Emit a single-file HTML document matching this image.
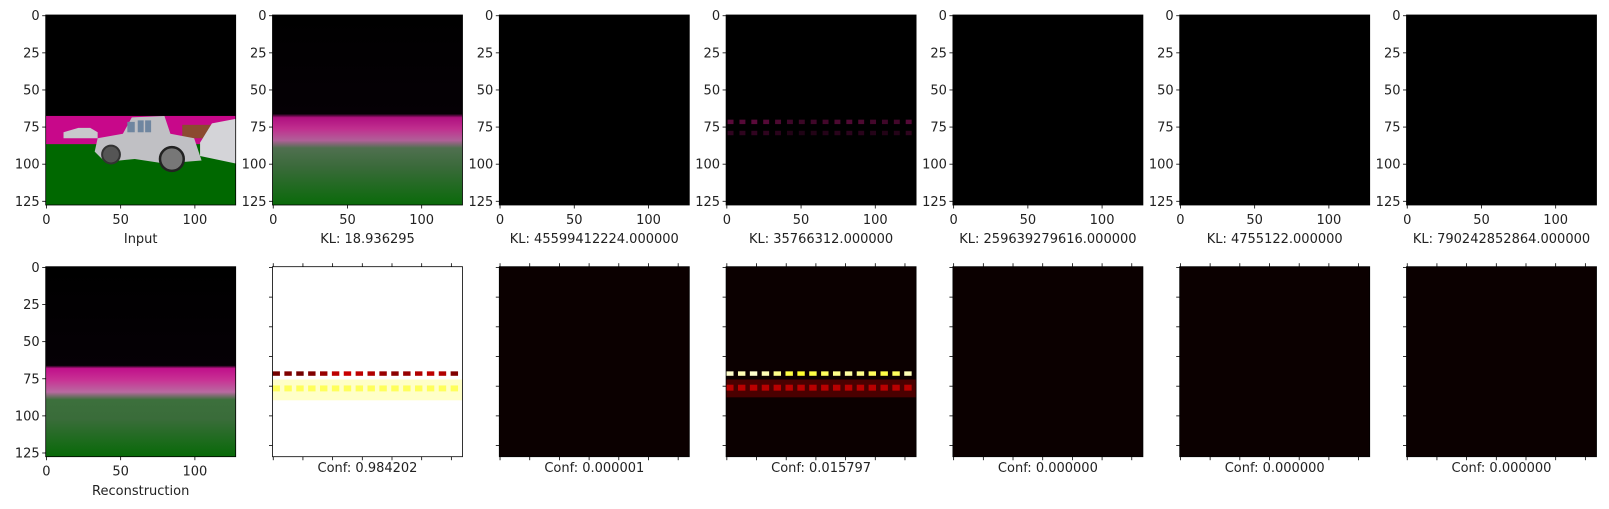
<!DOCTYPE html>
<html><head><meta charset="utf-8">
<style>
html,body{margin:0;padding:0;background:#fff;}
svg{display:block;font-family:"DejaVu Sans","Liberation Sans",sans-serif;}
</style></head>
<body>
<svg id="fig" width="1609" height="509" viewBox="0 0 1609 509" xmlns="http://www.w3.org/2000/svg"></svg>
<script>
const topLabels = ["Input","KL: 18.936295","KL: 45599412224.000000","KL: 35766312.000000","KL: 259639279616.000000","KL: 4755122.000000","KL: 790242852864.000000"];
const confValues = [null,0.984202,0.000001,0.015797,0.000000,0.000000,0.000000];
const confLabels = ["Reconstruction","Conf: 0.984202","Conf: 0.000001","Conf: 0.015797","Conf: 0.000000","Conf: 0.000000","Conf: 0.000000"];
const yTicksTop = [0,25,50,75,100,125];
const xTicksTop = [0,50,100];
const ticksBottom = [0,20,40,60,80,100,120];
const dotCols = [3,11,19,27,35,43,51,59,67,75,83,91,99,107,115,123];
const dotStrength = [1,0.95,1,0.95,0.85,0.7,0.65,0.7,0.75,0.85,0.9,0.85,0.75,0.7,0.75,0.95];

const NS="http://www.w3.org/2000/svg";
const svg=document.getElementById('fig');
const LEFT0=45.7, STEP=226.8, W=190, TOP0=15, TOP1=266.7;
const S=W/128;
function mk(tag,attrs,parent){const e=document.createElementNS(NS,tag);for(const k in attrs)e.setAttribute(k,attrs[k]);(parent||svg).appendChild(e);return e;}
function px(x0,d){return x0+(d+0.5)*S;}
function rect(g,x0,y0,dx,dy,dw,dh,fill,op){return mk('rect',{x:x0+dx*S,y:y0+dy*S,width:dw*S,height:dh*S,fill:fill,opacity:op==null?1:op},g);}
function txt(x,y,s,anchor,size){const t=mk('text',{x:x,y:y,'font-size':size||13,'text-anchor':anchor||'middle',fill:'#222'});t.textContent=s;return t;}
function hot(v){ // matplotlib hot
  const r=Math.min(1,0.0416+v/0.365),g=Math.max(0,Math.min(1,(v-0.365)/0.38)),b=Math.max(0,Math.min(1,(v-0.746)/0.254));
  return `rgb(${Math.round(r*255)},${Math.round(g*255)},${Math.round(b*255)})`;
}

for(let c=0;c<7;c++){
  const x0=LEFT0+STEP*c;
  // ---- top panel
  const gt=mk('g',{});
  
  
  rect(gt,x0,TOP0,0,0,128,128,'#000');
  if(c===0){
    rect(gt,x0,TOP0,0,68,128,20,'#c8088a');
    rect(gt,x0,TOP0,0,87,128,41,'#006800');
    rect(gt,x0,TOP0,92,74,26,9,'#8b4a30');
    mk('polygon',{points:[[12,79],[22,76],[30,76],[35,79],[35,83],[12,83]].map(p=>[x0+p[0]*S,TOP0+p[1]*S].join(',')).join(' '),fill:'#c8c8cc'},gt);
    mk('polygon',{points:[[104,86],[112,73],[128,70],[128,100],[104,95]].map(p=>[x0+p[0]*S,TOP0+p[1]*S].join(',')).join(' '),fill:'#d4d4d8'},gt);
    mk('polygon',{points:[[35,83],[52,80],[58,69],[80,68],[84,80],[100,83],[105,98],[80,100],[60,97],[40,99],[33,92]].map(p=>[x0+p[0]*S,TOP0+p[1]*S].join(',')).join(' '),fill:'#c0c0c4'},gt);
    rect(gt,x0,TOP0,62,71,4,8,'#6f86a0');rect(gt,x0,TOP0,67,71,4,8,'#6f86a0');rect(gt,x0,TOP0,55,72,5,7,'#6f86a0');
    mk('circle',{cx:x0+44*S,cy:TOP0+94*S,r:6*S,fill:'#555',stroke:'#333','stroke-width':2},gt);
    mk('circle',{cx:x0+85*S,cy:TOP0+97*S,r:8*S,fill:'#777',stroke:'#222','stroke-width':2.5},gt);
  } else if(c===1){
    const lg=mk('linearGradient',{id:'kl1',x1:0,y1:0,x2:0,y2:1},gt);
    [[0,'#000'],[0.52,'#050005'],[0.54,'#b01080'],[0.6,'#c0308f'],[0.66,'#b06098'],[0.7,'#507050'],[0.8,'#3a6a3a'],[1,'#0a6a0a']].forEach(s=>mk('stop',{offset:s[0],'stop-color':s[1]},lg));
    rect(gt,x0,TOP0,0,0,128,128,'url(#kl1)');
  } else if(c===3){
    dotCols.forEach((d,i)=>{rect(gt,x0,TOP0,d-2,70.5,4,3,'#5a0a3a',dotStrength[i]);rect(gt,x0,TOP0,d-2,78,4,3,'#300420',dotStrength[i]);});
  }
  mk('rect',{x:x0,y:TOP0,width:W,height:W,fill:'none',stroke:'#000','stroke-width':0.8},gt);
  yTicksTop.forEach(v=>{const y=px(TOP0,v);mk('line',{x1:x0-3.5,x2:x0,y1:y,y2:y,stroke:'#000','stroke-width':0.8},gt);txt(x0-6,y+4.5,String(v),'end');});
  xTicksTop.forEach(v=>{const x=px(x0,v);mk('line',{x1:x,x2:x,y1:TOP0+W,y2:TOP0+W+3.5,stroke:'#000','stroke-width':0.8},gt);txt(x,TOP0+W+19,String(v));});
  const tl=txt(x0+W/2,243,topLabels[c]);
  
  

  // ---- bottom panel
  const gb=mk('g',{});
  
  
  if(c===0){
    const lg=mk('linearGradient',{id:'rec',x1:0,y1:0,x2:0,y2:1},gb);
    [[0,'#000'],[0.52,'#050005'],[0.535,'#c0108a'],[0.6,'#c83595'],[0.66,'#b86aa0'],[0.7,'#3c703c'],[0.8,'#3a6c3a'],[1,'#086a08']].forEach(s=>mk('stop',{offset:s[0],'stop-color':s[1]},lg));
    rect(gb,x0,TOP1,0,0,128,128,'url(#rec)');
  } else {
    const conf=confValues[c];
    const bg = conf>0.5 ? '#ffffff' : hot(0);
    rect(gb,x0,TOP1,0,0,128,128,bg);
    if(conf>0.5){
      rect(gb,x0,TOP1,0,76,128,14,'#ffffc8');
      dotCols.forEach((d,i)=>{rect(gb,x0,TOP1,d-3,70.5,5,3,hot(0.5-0.35*dotStrength[i]));rect(gb,x0,TOP1,d-3,80,5,4,'#ffff40',0.8);});
    } else if(conf>0.005){
      rect(gb,x0,TOP1,0,76,128,12,'#4a0000');
      dotCols.forEach((d,i)=>{rect(gb,x0,TOP1,d-3,70.5,5,3,hot(0.5+0.45*dotStrength[i]));rect(gb,x0,TOP1,d-3,79.5,5,4,hot(0.25));});
    }
  }
  mk('rect',{x:x0,y:TOP1,width:W,height:W,fill:'none',stroke:'#000','stroke-width':0.8},gb);
  if(c===0){
    yTicksTop.forEach(v=>{const y=px(TOP1,v);mk('line',{x1:x0-3.5,x2:x0,y1:y,y2:y,stroke:'#000','stroke-width':0.8},gb);txt(x0-6,y+4.5,String(v),'end');});
    xTicksTop.forEach(v=>{const x=px(x0,v);mk('line',{x1:x,x2:x,y1:TOP1+W,y2:TOP1+W+3.5,stroke:'#000','stroke-width':0.8},gb);txt(x,TOP1+W+19,String(v));});
  } else {
    ticksBottom.forEach(v=>{
      const x=px(x0,v),y=px(TOP1,v);
      mk('line',{x1:x,x2:x,y1:TOP1-3.5,y2:TOP1,stroke:'#000','stroke-width':0.8},gb);
      mk('line',{x1:x,x2:x,y1:TOP1+W,y2:TOP1+W+3.5,stroke:'#000','stroke-width':0.8},gb);
      mk('line',{x1:x0-3.5,x2:x0,y1:y,y2:y,stroke:'#000','stroke-width':0.8},gb);
    });
  }
  const bl=txt(x0+W/2,c===0?495:472,confLabels[c]);
  
  
}
</script>
</body></html>
